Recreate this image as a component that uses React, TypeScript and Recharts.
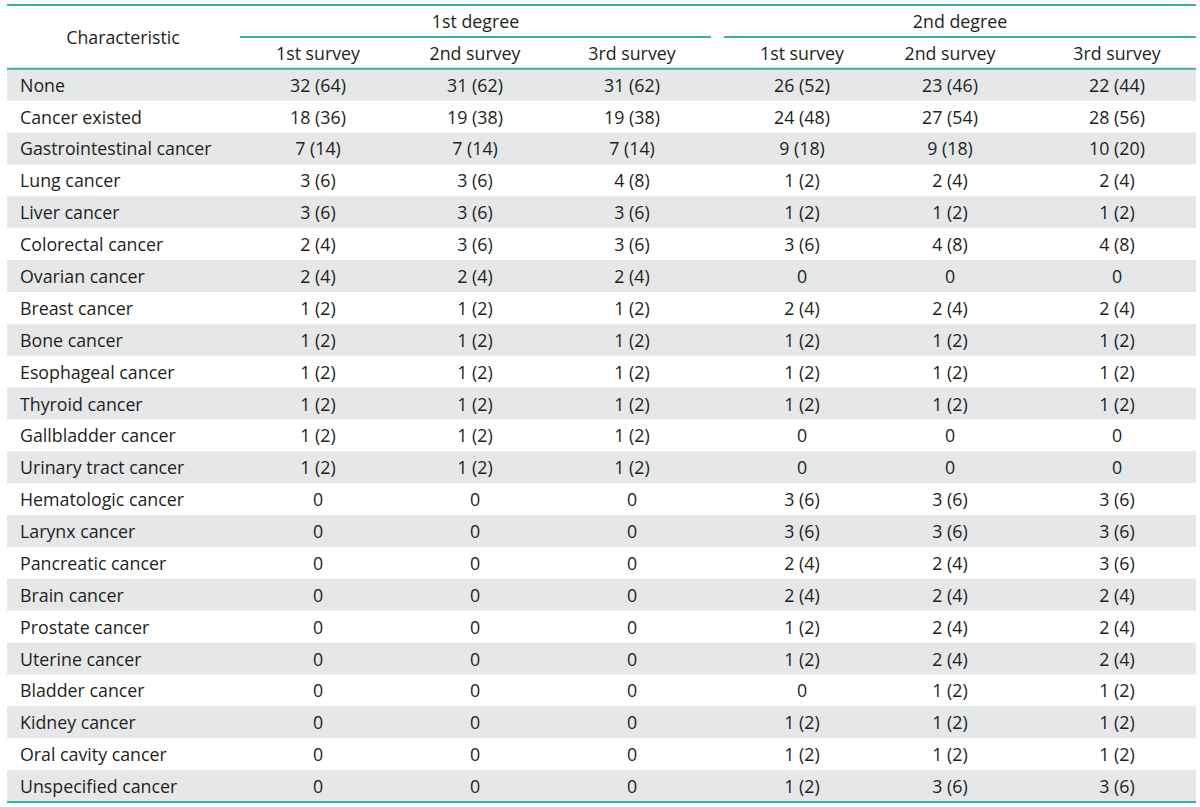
import React from 'react';
import { ComposedChart, XAxis, YAxis, Scatter, ReferenceArea, ReferenceLine } from 'recharts';

// ---------- data ----------
const characteristics = [
  'None', 'Cancer existed', 'Gastrointestinal cancer', 'Lung cancer', 'Liver cancer',
  'Colorectal cancer', 'Ovarian cancer', 'Breast cancer', 'Bone cancer', 'Esophageal cancer',
  'Thyroid cancer', 'Gallbladder cancer', 'Urinary tract cancer', 'Hematologic cancer',
  'Larynx cancer', 'Pancreatic cancer', 'Brain cancer', 'Prostate cancer', 'Uterine cancer',
  'Bladder cancer', 'Kidney cancer', 'Oral cavity cancer', 'Unspecified cancer',
];
const firstDegreeSurvey1 = ['32 (64)', '18 (36)', '7 (14)', '3 (6)', '3 (6)', '2 (4)', '2 (4)', '1 (2)', '1 (2)', '1 (2)', '1 (2)', '1 (2)', '1 (2)', '0', '0', '0', '0', '0', '0', '0', '0', '0', '0'];
const firstDegreeSurvey2 = ['31 (62)', '19 (38)', '7 (14)', '3 (6)', '3 (6)', '3 (6)', '2 (4)', '1 (2)', '1 (2)', '1 (2)', '1 (2)', '1 (2)', '1 (2)', '0', '0', '0', '0', '0', '0', '0', '0', '0', '0'];
const firstDegreeSurvey3 = ['31 (62)', '19 (38)', '7 (14)', '4 (8)', '3 (6)', '3 (6)', '2 (4)', '1 (2)', '1 (2)', '1 (2)', '1 (2)', '1 (2)', '1 (2)', '0', '0', '0', '0', '0', '0', '0', '0', '0', '0'];
const secondDegreeSurvey1 = ['26 (52)', '24 (48)', '9 (18)', '1 (2)', '1 (2)', '3 (6)', '0', '2 (4)', '1 (2)', '1 (2)', '1 (2)', '0', '0', '3 (6)', '3 (6)', '2 (4)', '2 (4)', '1 (2)', '1 (2)', '0', '1 (2)', '1 (2)', '1 (2)'];
const secondDegreeSurvey2 = ['23 (46)', '27 (54)', '9 (18)', '2 (4)', '1 (2)', '4 (8)', '0', '2 (4)', '1 (2)', '1 (2)', '1 (2)', '0', '0', '3 (6)', '3 (6)', '2 (4)', '2 (4)', '2 (4)', '2 (4)', '1 (2)', '1 (2)', '1 (2)', '3 (6)'];
const secondDegreeSurvey3 = ['22 (44)', '28 (56)', '10 (20)', '2 (4)', '1 (2)', '4 (8)', '0', '2 (4)', '1 (2)', '1 (2)', '1 (2)', '0', '0', '3 (6)', '3 (6)', '3 (6)', '2 (4)', '2 (4)', '2 (4)', '1 (2)', '1 (2)', '1 (2)', '3 (6)'];
const groupHeaders = ['1st degree', '2nd degree'];
const surveyHeaders = ['1st survey', '2nd survey', '3rd survey', '1st survey', '2nd survey', '3rd survey'];
const stubHeader = 'Characteristic';

// ---------- layout (horizontal axis units = px across the table) ----------
const TABLE_LEFT = 7;
const TABLE_RIGHT = 1196;
const STUB_X = 20;
const STUB_HEADER_X = 123;
const COL_CENTERS = [318, 475, 632, 802, 950, 1117];
const GROUP_SPANS: [number, number][] = [[240, 711], [724, 1196]];
const ROW_GROUP = '__group';
const ROW_SURVEY = '__survey';

const TEAL = '#3eafa5';
const SHADE = '#e6e7e9';
const INK = '#231f20';
const FONT = '"Open Sans", sans-serif';
const FONT_SIZE = 17.8;

const valueColumns = [
  firstDegreeSurvey1, firstDegreeSurvey2, firstDegreeSurvey3,
  secondDegreeSurvey1, secondDegreeSurvey2, secondDegreeSurvey3,
];

type Cell = { row: string; x: number; text: string; anchor: 'start' | 'middle'; dy?: number };

const cells: Cell[] = [];
cells.push({ row: ROW_GROUP, x: STUB_HEADER_X, text: stubHeader, anchor: 'middle', dy: 16 });
groupHeaders.forEach((g, i) => {
  cells.push({ row: ROW_GROUP, x: (GROUP_SPANS[i][0] + GROUP_SPANS[i][1]) / 2, text: g, anchor: 'middle' });
});
surveyHeaders.forEach((s, i) => {
  cells.push({ row: ROW_SURVEY, x: COL_CENTERS[i], text: s, anchor: 'middle' });
});
characteristics.forEach((c, r) => {
  cells.push({ row: c, x: STUB_X, text: c, anchor: 'start' });
  valueColumns.forEach((col, i) => {
    cells.push({ row: c, x: COL_CENTERS[i], text: col[r], anchor: 'middle' });
  });
});

const CellText = (props: any) => {
  const { cx, cy, payload } = props;
  if (cx == null || cy == null) return null;
  return (
    <text
      x={cx}
      y={cy + (payload.dy ?? 0)}
      textAnchor={payload.anchor}
      dominantBaseline="central"
      fontFamily={FONT}
      fontSize={FONT_SIZE}
      fill={INK}
    >
      {payload.text}
    </text>
  );
};

export default function App() {
  const lastRow = characteristics[characteristics.length - 1];
  return (
    <div style={{ position: 'absolute', left: 0, top: 0, width: 1200, height: 807, background: '#fff' }}>
      <ComposedChart
        width={1200}
        height={807}
        margin={{ top: 5, right: 1200 - TABLE_RIGHT, bottom: 5, left: TABLE_LEFT }}
      >
        <XAxis type="number" dataKey="x" domain={[TABLE_LEFT, TABLE_RIGHT]} hide allowDataOverflow />
        <YAxis
          type="category"
          dataKey="row"
          scale="band"
          allowDuplicatedCategory={false}
          hide
          reversed
        />
        {characteristics.map((c, i) =>
          i % 2 === 0 ? (
            <ReferenceArea key={c} y1={c} y2={c} fill={SHADE} fillOpacity={1} stroke="none" ifOverflow="visible" />
          ) : null
        )}
        <ReferenceLine y={ROW_GROUP} position="start" stroke={TEAL} strokeWidth={2} ifOverflow="visible" />
        {GROUP_SPANS.map((s, i) => (
          <ReferenceLine
            key={i}
            position="end"
            segment={[{ x: s[0], y: ROW_GROUP }, { x: s[1], y: ROW_GROUP }]}
            stroke={TEAL}
            strokeWidth={2}
            ifOverflow="visible"
          />
        ))}
        <ReferenceLine y={ROW_SURVEY} position="end" stroke={TEAL} strokeWidth={2} ifOverflow="visible" />
        <ReferenceLine y={lastRow} position="end" stroke={TEAL} strokeWidth={2} ifOverflow="visible" />
        <Scatter data={cells} shape={CellText} isAnimationActive={false} />
      </ComposedChart>
    </div>
  );
}
